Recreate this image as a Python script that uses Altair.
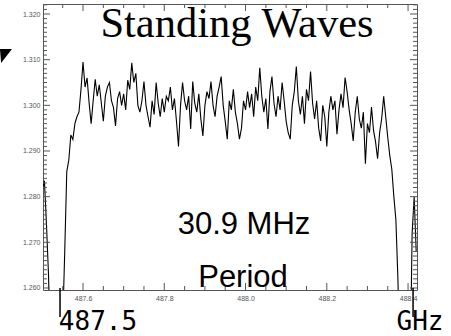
import altair as alt
import pandas as pd

# ---------------- data ----------------
FREQ_GHZ = [
    487.500, 487.505, 487.510, 487.515, 487.520, 487.525, 487.530, 487.535, 487.540, 487.545,
    487.550, 487.555, 487.560, 487.565, 487.570, 487.575, 487.580, 487.585, 487.590, 487.595,
    487.600, 487.605, 487.610, 487.615, 487.620, 487.625, 487.630, 487.635, 487.640, 487.645,
    487.650, 487.655, 487.660, 487.665, 487.670, 487.675, 487.680, 487.685, 487.690, 487.695,
    487.700, 487.705, 487.710, 487.715, 487.720, 487.725, 487.730, 487.735, 487.740, 487.745,
    487.750, 487.755, 487.760, 487.765, 487.770, 487.775, 487.780, 487.785, 487.790, 487.795,
    487.800, 487.805, 487.810, 487.815, 487.820, 487.825, 487.830, 487.835, 487.840, 487.845,
    487.850, 487.855, 487.860, 487.865, 487.870, 487.875, 487.880, 487.885, 487.890, 487.895,
    487.900, 487.905, 487.910, 487.915, 487.920, 487.925, 487.930, 487.935, 487.940, 487.945,
    487.950, 487.955, 487.960, 487.965, 487.970, 487.975, 487.980, 487.985, 487.990, 487.995,
    488.000, 488.005, 488.010, 488.015, 488.020, 488.025, 488.030, 488.035, 488.040, 488.045,
    488.050, 488.055, 488.060, 488.065, 488.070, 488.075, 488.080, 488.085, 488.090, 488.095,
    488.100, 488.105, 488.110, 488.115, 488.120, 488.125, 488.130, 488.135, 488.140, 488.145,
    488.150, 488.155, 488.160, 488.165, 488.170, 488.175, 488.180, 488.185, 488.190, 488.195,
    488.200, 488.205, 488.210, 488.215, 488.220, 488.225, 488.230, 488.235, 488.240, 488.245,
    488.250, 488.255, 488.260, 488.265, 488.270, 488.275, 488.280, 488.285, 488.290, 488.295,
    488.300, 488.305, 488.310, 488.315, 488.320, 488.325, 488.330, 488.335, 488.340, 488.345,
    488.350, 488.355, 488.360, 488.365, 488.370, 488.375, 488.380, 488.385, 488.390, 488.395,
    488.400, 488.405, 488.410, 488.415, 488.420,
]

INTENSITY = [
    1.2815, 1.2835, 1.2740, 1.2630, 1.2450, 1.2400, 1.2400, 1.2400, 1.2400, 1.2400,
    1.2520, 1.2680, 1.2855, 1.2880, 1.2935, 1.2925, 1.2960, 1.2975, 1.2985, 1.3035,
    1.3095, 1.3040, 1.3060, 1.3005, 1.2960, 1.3010, 1.3057, 1.3020, 1.3045, 1.3005,
    1.2965, 1.3020, 1.3040, 1.3050, 1.3010, 1.2995, 1.2955, 1.3015, 1.3030, 1.3000,
    1.3025, 1.2990, 1.3055, 1.3035, 1.3093, 1.3050, 1.3070, 1.3000, 1.2985, 1.3010,
    1.3052, 1.3000, 1.2975, 1.2952, 1.3010, 1.2980, 1.3050, 1.3005, 1.2975, 1.3015,
    1.2985, 1.3020, 1.3010, 1.3040, 1.2990, 1.3015, 1.2965, 1.2910, 1.3000, 1.3050,
    1.3010, 1.2990, 1.3020, 1.2948, 1.3052, 1.3005, 1.2985, 1.3025, 1.2970, 1.2933,
    1.3000, 1.3030, 1.3015, 1.3052, 1.3000, 1.2975, 1.3020, 1.3040, 1.3063, 1.3000,
    1.2965, 1.2926, 1.3010, 1.2990, 1.3035, 1.2985, 1.2960, 1.2926, 1.2950, 1.3010,
    1.2990, 1.3030, 1.2995, 1.3025, 1.2975, 1.3040, 1.3010, 1.3082, 1.3020, 1.2985,
    1.3015, 1.2948, 1.3030, 1.3063, 1.3005, 1.2975, 1.3020, 1.2990, 1.3050, 1.3010,
    1.2965, 1.2940, 1.2926, 1.3000, 1.3030, 1.3085, 1.3010, 1.2980, 1.3020, 1.2960,
    1.3035, 1.3010, 1.3074, 1.3005, 1.2970, 1.3010, 1.2950, 1.2922, 1.3000, 1.2975,
    1.2910, 1.2985, 1.3020, 1.2990, 1.3010, 1.2937, 1.2990, 1.3025, 1.2995, 1.3061,
    1.3030, 1.2990, 1.2960, 1.2922, 1.2985, 1.3020, 1.2970, 1.2950, 1.2985, 1.2872,
    1.2960, 1.2940, 1.2996, 1.2945, 1.2920, 1.2883, 1.2940, 1.2970, 1.3020, 1.2975,
    1.2930, 1.2890, 1.2860, 1.2800, 1.2750, 1.2620, 1.2450, 1.2400, 1.2400, 1.2400,
    1.2400, 1.2400, 1.2720, 1.2800, 1.2680,
]

X_MAJOR = [487.6, 487.8, 488.0, 488.2, 488.4]
X_MINOR = [487.55, 487.65, 487.70, 487.75, 487.85, 487.90, 487.95,
           488.05, 488.10, 488.15, 488.25, 488.30, 488.35]
Y_MAJOR = [1.26, 1.27, 1.28, 1.29, 1.30, 1.31, 1.32]
Y_MINOR = [round(1.260 + i * 0.001, 3) for i in range(63) if i % 10]
MARKERS_GHZ = [487.5434, 488.4123]

TITLE = "Standing Waves"
NOTE1 = "30.9 MHz"
NOTE2 = "Period"
BIG_LEFT = "487.5"
BIG_RIGHT = "GHz"

# ---------------- layout ----------------
W, H = 374, 286
X_DOMAIN = [487.5015, 488.422]
Y_DOMAIN = [1.25956, 1.32219]
FRAME = "#555555"

xs = alt.Scale(domain=X_DOMAIN, nice=False, zero=False)
ys = alt.Scale(domain=Y_DOMAIN, nice=False, zero=False)

AX_X = alt.Axis(values=X_MAJOR, format=".1f", title=None, ticks=False, domain=False, grid=False,
                labelFontSize=7, labelColor="#555555", labelPadding=4, labelFont="Liberation Sans",
                labelFlush=False, labelOverlap=False)
AX_Y = alt.Axis(values=Y_MAJOR, format=".3f", title=None, ticks=False, domain=False, grid=False,
                labelFontSize=7, labelColor="#555555", labelPadding=3, labelFont="Liberation Sans",
                labelFlush=False, labelOverlap=False)

spec = pd.DataFrame({"f": FREQ_GHZ, "v": INTENSITY})

line = alt.Chart(spec).mark_line(color="black", strokeWidth=1.1, clip=True).encode(
    x=alt.X("f:Q", scale=xs, axis=AX_X, title=None),
    y=alt.Y("v:Q", scale=ys, axis=AX_Y, title=None),
)


def xticks(vals, y1, y2):
    return alt.Chart(pd.DataFrame({"f": vals})).mark_rule(color=FRAME, strokeWidth=1).encode(
        x=alt.X("f:Q", scale=xs, axis=AX_X, title=None), y=alt.value(y1), y2=alt.value(y2))


def yticks(vals, x1, x2):
    return alt.Chart(pd.DataFrame({"v": vals})).mark_rule(color=FRAME, strokeWidth=1).encode(
        y=alt.Y("v:Q", scale=ys, axis=AX_Y, title=None), x=alt.value(x1), x2=alt.value(x2))


ticks = [
    xticks(X_MAJOR, H, H - 7), xticks(X_MINOR, H, H - 4),
    xticks(X_MAJOR, 0, 7), xticks(X_MINOR, 0, 4),
    yticks(Y_MAJOR, 0, 7), yticks(Y_MINOR, 0, 4),
    yticks(Y_MAJOR, W, W - 7), yticks(Y_MINOR, W, W - 4),
]

markers = alt.Chart(pd.DataFrame({"f": MARKERS_GHZ})).mark_rule(
    color="black", strokeWidth=1.5).encode(
    x=alt.X("f:Q", scale=xs, axis=AX_X, title=None), y=alt.value(H - 2), y2=alt.value(H + 27))


def label(txt, x, y, size, font, color="black"):
    return alt.Chart(pd.DataFrame({"t": [txt]})).mark_text(
        align="center", baseline="alphabetic", font=font, fontSize=size, color=color
    ).encode(x=alt.value(x), y=alt.value(y), text="t:N")


texts = [
    label(TITLE, 194, 33, 42.5, "Liberation Serif"),
    label(NOTE1, 201, 230, 31, "Liberation Sans"),
    label(NOTE2, 200, 283, 31, "Liberation Sans"),
    label(BIG_LEFT, 55, 326, 26, "DejaVu Sans Mono"),
    label(BIG_RIGHT, 377, 326, 26, "DejaVu Sans Mono"),
]

arrow = alt.Chart(pd.DataFrame({"a": [0]})).mark_point(
    shape="M -0.857 -1 L 0.857 -1 L -0.7 1 Z", filled=True, color="black",
    size=196, opacity=1, strokeWidth=0).encode(x=alt.value(-37), y=alt.value(52))

chart = alt.layer(line, *ticks, markers, *texts, arrow).properties(
    width=W, height=H,
    autosize=alt.AutoSizeParams(type="none"),
    padding={"left": 43, "top": 4, "right": 34, "bottom": 46},
    background="white",
).configure_view(stroke=FRAME, strokeWidth=1)

chart.save("out.html", embed_options={"renderer": "svg", "actions": False})
